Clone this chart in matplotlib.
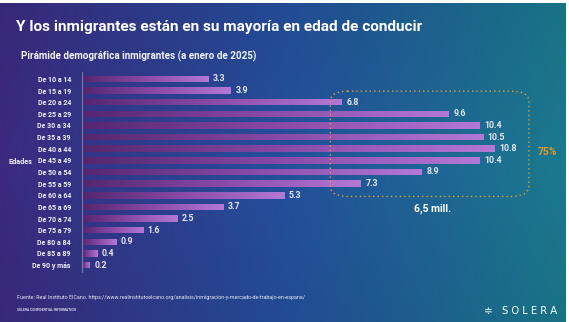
import numpy as np
import matplotlib
matplotlib.use("Agg")
import matplotlib.pyplot as plt
from matplotlib.colors import LinearSegmentedColormap, to_rgb
from matplotlib.patches import FancyBboxPatch

# ---- data ----
categories = ["De 10 a 14", "De 15 a 19", "De 20 a 24", "De 25 a 29", "De 30 a 34",
              "De 35 a 39", "De 40 a 44", "De 45 a 49", "De 50 a 54", "De 55 a 59",
              "De 60 a 64", "De 65 a 69", "De 70 a 74", "De 75 a 79", "De 80 a 84",
              "De 85 a 89", "De 90 y más"]
values = [3.3, 3.9, 6.8, 9.6, 10.4, 10.5, 10.8, 10.4, 8.9, 7.3, 5.3, 3.7, 2.5, 1.6, 0.9, 0.4, 0.2]
value_labels = ["3.3", "3.9", "6.8", "9.6", "10.4", "10.5", "10.8", "10.4", "8.9", "7.3",
                "5.3", "3.7", "2.5", "1.6", "0.9", "0.4", "0.2"]

title = "Y los inmigrantes están en su mayoría en edad de conducir"
subtitle = "Pirámide demográfica inmigrantes (a enero de 2025)"
ylabel = "Edades"
highlight_pct = "75%"
highlight_total = "6,5 mill."
source = ("Fuente: Real Instituto ElCano. https://www.realinstitutoelcano.org/analisis/"
          "inmigracion-y-mercado-de-trabajo-en-espana/")
confidential = "SOLERA CONFIDENTIAL INFORMATION"

W, H = 569, 322
fig = plt.figure(figsize=(W / 100, H / 100), dpi=100)
fig.patch.set_facecolor("white")

# ---- background gradient ----
bg = fig.add_axes([0, 0, 566 / W, 319 / H])
bg.set_axis_off()
nx, ny = 300, 100
xs = np.linspace(0, 1, nx)
ys = np.linspace(0, 1, ny)
left = np.array(to_rgb("#3b2a80"))
mid = np.array(to_rgb("#244f9c"))
right = np.array(to_rgb("#1a7a8e"))
img = np.zeros((ny, nx, 3))
for i, x in enumerate(xs):
    if x < 0.5:
        c = left + (mid - left) * (x / 0.5)
    else:
        c = mid + (right - mid) * ((x - 0.5) / 0.5)
    img[:, i, :] = c
shade = 1.0 - 0.06 * np.abs(ys - 0.5)[:, None, None] * 2
img = np.clip(img * shade, 0, 1)
bg.imshow(img, aspect="auto", extent=[0, 1, 0, 1], origin="lower")
bg.set_xlim(0, 1)
bg.set_ylim(0, 1)

# ---- chart axes ----
ax_left, ax_right = 82, 566
ax_top, ax_bottom = 72, 272
ax = fig.add_axes([ax_left / W, 1 - ax_bottom / H, (ax_right - ax_left) / W, (ax_bottom - ax_top) / H])
ax.set_facecolor("none")
n = len(categories)
ypos = np.arange(n)
xmax = (ax_right - ax_left) / 38.2

bar_cmap = LinearSegmentedColormap.from_list("bar", ["#54266e", "#8a4aa8", "#b478d6"])
grad = np.linspace(0, 1, 256)[None, :]
bars = ax.barh(ypos, values, height=0.56, color="none", edgecolor="none")
for b, v in zip(bars, values):
    x0, y0 = b.get_x(), b.get_y()
    im = ax.imshow(grad, cmap=bar_cmap, aspect="auto",
                   extent=[x0, x0 + b.get_width(), y0 + b.get_height(), y0],
                   zorder=2)
    im.set_clip_path(b)
ax.set_xlim(0, xmax)
ax.set_ylim(n - 0.4, -0.6)

for y, v, lab in zip(ypos, values, value_labels):
    ax.text(v + 0.12, y, lab, va="center", ha="left", color="#e6e6ee",
            fontsize=6.3, fontweight="bold", family="Roboto")

ax.set_yticks(ypos)
ax.set_yticklabels(categories, fontsize=5.0, fontweight="bold", color="#f0f0f5", family="Roboto")
ax.tick_params(axis="y", length=0, pad=8)
ax.set_xticks([])
for s in ["top", "right", "bottom"]:
    ax.spines[s].set_visible(False)
ax.spines["left"].set_color("#8a8fb0")
ax.spines["left"].set_linewidth(0.6)

# highlight dotted rounded box
box = FancyBboxPatch((6.5, 1.05), 11.7 - 6.5, 10.1 - 1.05,
                     boxstyle="round,pad=0,rounding_size=0.45",
                     mutation_aspect=2.0,
                     fill=False, edgecolor="#e0a030", linewidth=1.0,
                     linestyle=(0, (1, 2.2)), zorder=3, clip_on=False)
ax.add_patch(box)

fig.text(548 / W, 1 - 152 / H, highlight_pct, color="#e09a2a", fontsize=7.5,
         fontweight="bold", ha="center", va="center", family="Roboto")
fig.text(433 / W, 1 - 209 / H, highlight_total, color="white", fontsize=7.5,
         fontweight="bold", ha="center", va="center", family="Roboto")

fig.text(20 / W, 1 - 162 / H, ylabel, color="#f0f0f5", fontsize=5.2,
         fontweight="bold", ha="center", va="center", family="Roboto")

# titles
fig.text(16 / W, 1 - 27 / H, title, color="white", fontsize=11.1, fontweight="bold",
         ha="left", va="center", family="Roboto")
fig.text(21 / W, 1 - 56 / H, subtitle, color="#f2f2f7", fontsize=7.1, fontweight="bold",
         ha="left", va="center", family="Roboto")

# footer
fig.text(17 / W, 1 - 297 / H, source, color="#e8e8f0", fontsize=3.9,
         ha="left", va="center", family="Roboto")
fig.text(17 / W, 1 - 310 / H, confidential, color="#dcdce8", fontsize=2.3,
         fontweight="bold", ha="left", va="center", family="Roboto")
fig.text(530 / W, 1 - 311 / H, "S O L E R A", color="white", fontsize=7.2,
         ha="center", va="center", family="DejaVu Sans")
fig.text(488 / W, 1 - 311 / H, "≑", color="white", fontsize=7.5,
         ha="center", va="center", family="DejaVu Sans")

fig.savefig("out.png", dpi=100, facecolor=fig.get_facecolor())
